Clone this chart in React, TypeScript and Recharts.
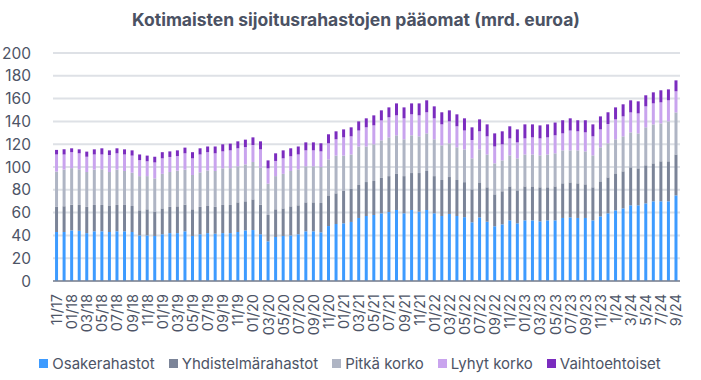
import React from "react";
import { BarChart, Bar, XAxis, YAxis, CartesianGrid, Legend } from "recharts";

const months = [
  "11/17","12/17",
  "01/18","02/18","03/18","04/18","05/18","06/18","07/18","08/18","09/18","10/18","11/18","12/18",
  "01/19","02/19","03/19","04/19","05/19","06/19","07/19","08/19","09/19","10/19","11/19","12/19",
  "01/20","02/20","03/20","04/20","05/20","06/20","07/20","08/20","09/20","10/20","11/20","12/20",
  "01/21","02/21","03/21","04/21","05/21","06/21","07/21","08/21","09/21","10/21","11/21","12/21",
  "01/22","02/22","03/22","04/22","05/22","06/22","07/22","08/22","09/22","10/22","11/22","12/22",
  "01/23","02/23","03/23","04/23","05/23","06/23","07/23","08/23","09/23","10/23","11/23","12/23",
  "1/24","2/24","3/24","4/24","5/24","6/24","7/24","8/24","9/24",
];

const osakerahastot = [
  43,43,44.4,44,42,43.6,43.6,43,43.6,43.6,
  43,40,40,39.5,41,42,42,43.6,39.5,41,
  42,41.5,42,42,43,44.4,44.7,41,34.8,38.6,
  39.5,40,41,43.6,43.6,42.7,48.2,50,50.6,51.8,
  55.3,57,57.9,59.4,60.5,62.3,59.4,62.3,60.8,62.3,
  59.4,57,58.8,57,56,51.5,55.8,52,48,49.7,
  53.2,50.6,53.2,53.2,52.3,53.2,53.2,55.3,55.8,55.3,
  55.3,53.2,56.7,59.4,62,63.7,66.4,66.4,68.1,69.9,
  69.9,69.9,75.1,
];

const yhdistelmarahastot = [
  22,22.5,22.6,22.7,23,23.1,23.1,22.8,23.1,23.1,
  22.8,22,22.9,21.5,22.7,23,23.5,23.4,23.4,24,
  23.8,23.5,24.7,24.7,26,25.5,26.9,26,23.1,24.3,
  24.2,25.5,25.4,25.4,25.4,25.7,26.9,26.9,28.4,28.9,
  28.9,29.8,29.8,31,31.5,31.6,32.6,32.4,33.9,34.2,
  32.6,31.6,32.4,31.6,30.7,28.9,30.7,30.2,28,29,
  29.8,28.9,29.8,29.8,29.9,29,29.8,30.4,30.7,30.4,
  29.5,29,30.7,31.5,32.4,32.5,33.3,32.4,33.4,33.3,
  35.1,35.1,35.9,
];

const pitkaKorko = [
  31,32.2,32,31.3,30.6,31,31.3,29.8,31,29.8,
  29.2,30,29.1,29,30.3,30.6,31.3,30.7,30.1,30.3,
  31.2,31.5,32.1,32.3,31.6,32.4,32.8,32.4,27.5,29.1,
  30.3,31,31.6,31.6,31.6,31.6,31.6,33.1,31,30.3,
  33.8,31.2,32.2,33,34,33.9,32.3,33.1,32.2,33,
  32.3,30.4,29.6,28.7,28.7,27.2,29,28.8,27.2,27.1,
  27.2,28.1,28,28,28,28.8,29,28.9,28.1,28.9,
  28.9,28,29.9,29.9,29.9,30.7,30.7,30.7,33.3,34.2,
  33.3,35,36.9,
];

const lyhytKorko = [
  15,13.3,14,14,13.4,13.3,13,14.9,14.3,14.5,
  15,14,13,14,13.6,13.2,12.8,14.3,14.6,15.7,
  16,15.5,14.9,15.6,15.8,15.2,14.9,16.1,13.4,13.3,
  13.6,12.9,13,14,14,13.7,14.1,14.3,16,15.9,
  14,16.8,16.6,17.5,17.6,17.5,18.4,18.4,18.4,18.5,
  18.4,18.4,19.2,18.4,16.6,16.1,15.8,15.9,14.8,14.1,
  14.9,14,14.1,15,14.9,15,15.8,14.9,17.4,16.7,
  16.7,16.7,15.7,16.9,17.5,17.5,17.5,17.5,18.4,18.4,
  18.4,18.5,18.5,
];

const vaihtoehtoiset = [
  4,4.5,3.4,3.5,4.5,4.5,5.4,4.1,4.4,4.5,
  4.6,5,5,5,5.4,4.9,5,5,5.4,5.4,
  5,6,6.2,5.9,6.1,6.5,6.7,7,7,6.7,
  7,7,7,7,7,7.1,7.9,7,7,7.9,
  8,7.9,8.8,8.8,8.7,10.5,9.6,9.6,10.5,10.5,
  10.5,10.6,9.7,10.5,10.7,11.1,10.5,10.5,11.5,11.4,
  10.6,11.4,12.3,11.4,11.4,11.4,11.2,11.5,10.7,9.7,
  10.6,10.5,11.4,10.3,10.5,10.6,10.6,10.6,9.7,9.7,
  10.6,9.6,9.6,
];

const yTicks = [0, 20, 40, 60, 80, 100, 120, 140, 160, 180, 200];

const series = [
  { key: "Osakerahastot", color: "#3d9bff" },
  { key: "Yhdistelmärahastot", color: "#7b8498" },
  { key: "Pitkä korko", color: "#afb5c4" },
  { key: "Lyhyt korko", color: "#c9a4ee" },
  { key: "Vaihtoehtoiset", color: "#7b2cbf" },
];

const data = months.map((m, i) => ({
  month: m,
  "Osakerahastot": osakerahastot[i],
  "Yhdistelmärahastot": yhdistelmarahastot[i],
  "Pitkä korko": pitkaKorko[i],
  "Lyhyt korko": lyhytKorko[i],
  "Vaihtoehtoiset": vaihtoehtoiset[i],
}));

const FONT = "Inter, 'Noto Sans', sans-serif";
const TEXT = "#4d5466";

const XTick = (props: any) => {
  const { x, y, payload } = props;
  return (
    <g transform={`translate(${x},${y})`}>
      <text
        transform="rotate(-90)"
        x={-11}
        y={0}
        dy="0.36em"
        textAnchor="end"
        fill={TEXT}
        fontSize={14.5}
        fontFamily={FONT}
      >
        {payload.value}
      </text>
    </g>
  );
};

const renderLegend = () => (
  <div
    style={{
      display: "flex",
      justifyContent: "center",
      alignItems: "center",
      height: 24,
      fontFamily: FONT,
      fontSize: 15,
      color: TEXT,
      paddingLeft: 34,
    }}
  >
    {series.map((s) => (
      <div key={s.key} style={{ display: "flex", alignItems: "center", marginRight: 14 }}>
        <span style={{ display: "inline-block", width: 9, height: 9, background: s.color, marginRight: 4 }} />
        <span>{s.key}</span>
      </div>
    ))}
  </div>
);

export default function App() {
  return (
    <div style={{ position: "absolute", left: 0, top: 0, width: 701, height: 380, background: "#fff" }}>
      <div
        style={{
          position: "absolute",
          left: 0,
          top: 8,
          width: 712,
          textAlign: "center",
          fontFamily: FONT,
          fontWeight: 700,
          fontSize: 17.5,
          color: "#4b5263",
          lineHeight: "24px",
        }}
      >
        Kotimaisten sijoitusrahastojen pääomat (mrd. euroa)
      </div>
      <BarChart
        width={701}
        height={380}
        data={data}
        margin={{ top: 53, right: 21, bottom: 5, left: 0 }}
        barCategoryGap="27%"
      >
        <CartesianGrid vertical={false} stroke="#dee1e6" strokeWidth={2} />
        <XAxis
          dataKey="month"
          interval={1}
          tickLine={false}
          tickSize={0}
          tick={<XTick />}
          height={70}
          axisLine={{ stroke: "#7b8292", strokeWidth: 1.5 }}
        />
        <YAxis
          domain={[0, 200]}
          ticks={yTicks}
          interval={0}
          width={53}
          axisLine={false}
          tickLine={false}
          tickMargin={16}
          tick={{ fill: TEXT, fontSize: 15.5, fontFamily: FONT }}
        />
        <Legend verticalAlign="bottom" content={renderLegend} />
        {series.map((s) => (
          <Bar key={s.key} dataKey={s.key} stackId="a" fill={s.color} isAnimationActive={false} />
        ))}
      </BarChart>
    </div>
  );
}
